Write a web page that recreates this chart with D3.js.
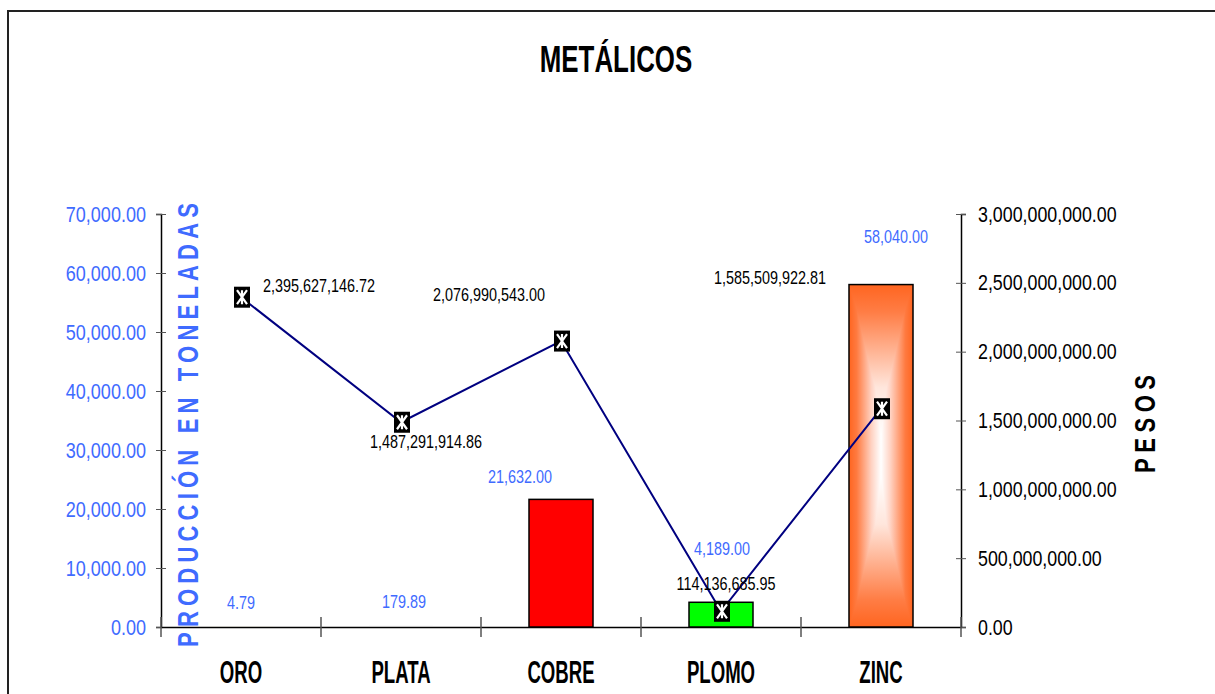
<!DOCTYPE html>
<html>
<head>
<meta charset="utf-8">
<script src="https://cdn.jsdelivr.net/npm/d3@7"></script>
<style>
  body { margin: 0; background: #fff; }
  svg { display: block; font-family: "Liberation Sans", Arial, sans-serif; }
</style>
</head>
<body>
<svg id="chart" width="1215" height="694"></svg>
<script>
// Chart values
const categories = ["ORO", "PLATA", "COBRE", "PLOMO", "ZINC"];
const toneladas = [4.79, 179.89, 21632.00, 4189.00, 58040.00];
const pesos = [2395627146.72, 1487291914.86, 2076990543.00, 114136685.95, 1585509922.81];
const leftTicks = [0, 10000, 20000, 30000, 40000, 50000, 60000, 70000];
const rightTicks = [0, 500000000, 1000000000, 1500000000, 2000000000, 2500000000, 3000000000];
const barFills = ["#FFD700", "#C0C0C0", "#FF0000", "#00FF00", "gradient"];

// Hand-placed label offsets (like the original sheet)
const lineLabelOffsets = [[78, -12], [25, 19], [-72, -46], [5, -28], [-111, -131]];
const barLabelOffsets = [[0, -24], [3, -24], [-41, -23], [1, -54], [15, -48]];

const blue = "#3F6BFF";
const fmt = d3.format(",.2f");

const svg = d3.select("#chart");
const defs = svg.append("defs");

// zinc bar: orange edges fading to a white centre
const gH = defs.append("linearGradient").attr("id", "zincH").attr("x1", 0).attr("x2", 1).attr("y1", 0).attr("y2", 0);
[[0, "#FF6520"], [0.12, "#FF7A40"], [0.35, "#FFD2C2"], [0.5, "#FFFFFF"], [0.65, "#FFD2C2"], [0.88, "#FF7A40"], [1, "#FF6520"]]
    .forEach(s => gH.append("stop").attr("offset", s[0]).attr("stop-color", s[1]));
const gV = defs.append("linearGradient").attr("id", "zincV").attr("x1", 0).attr("x2", 0).attr("y1", 0).attr("y2", 1);
[[0, "#FF6520"], [0.08, "#FF7D45"], [0.3, "#FFE6DC"], [0.45, "#FFFFFF"], [0.55, "#FFFFFF"], [0.7, "#FFE6DC"], [0.92, "#FF7D45"], [1, "#FF6520"]]
    .forEach(s => gV.append("stop").attr("offset", s[0]).attr("stop-color", s[1]));

// outer frame
svg.append("rect")
    .attr("x", 8).attr("y", 11)
    .attr("width", 1300).attr("height", 800)
    .attr("fill", "none").attr("stroke", "#222").attr("stroke-width", 2);

// squeeze text horizontally around its anchor
function squeeze(sel, sx) {
    sel.each(function () {
        const t = d3.select(this);
        const x = +t.attr("x") || 0, y = +t.attr("y") || 0;
        t.attr("x", 0).attr("y", 0).attr("transform", `translate(${x},${y}) scale(${sx},1)`);
    });
}

// scales
const x = d3.scaleBand().domain(categories).range([161, 961]).padding(0);
const yL = d3.scaleLinear().domain([0, 70000]).range([627, 214]);
const yR = d3.scaleLinear().domain([0, 3000000000]).range([627, 214]);
const barW = x.bandwidth() * 0.4;
const cx = d => x(d) + x.bandwidth() / 2;

// title
svg.append("text")
    .attr("x", 616).attr("y", 72)
    .attr("text-anchor", "middle")
    .attr("font-size", 37).attr("font-weight", "bold")
    .text("METÁLICOS")
    .call(squeeze, 0.7);

// left axis
const gL = svg.append("g")
    .attr("transform", "translate(161,0)")
    .call(d3.axisLeft(yL).tickValues(leftTicks).tickFormat(fmt).tickSizeOuter(0).tickSize(5).tickPadding(10));
gL.select(".domain").attr("stroke", "#000").attr("stroke-width", 1.5);
gL.selectAll(".tick line").attr("x1", -5).attr("x2", 5).attr("stroke", "#555");
gL.selectAll(".tick text")
    .attr("fill", blue).attr("font-size", 22)
    .attr("font-family", "Liberation Sans, Arial, sans-serif")
    .call(squeeze, 0.82);

// right axis
const gR = svg.append("g")
    .attr("transform", "translate(961,0)")
    .call(d3.axisRight(yR).tickValues(rightTicks).tickFormat(fmt).tickSizeOuter(0).tickSize(5).tickPadding(12));
gR.select(".domain").attr("stroke", "#000").attr("stroke-width", 1.5);
gR.selectAll(".tick line").attr("x1", -5).attr("x2", 5).attr("stroke", "#555");
gR.selectAll(".tick text")
    .attr("fill", "#000").attr("font-size", 22)
    .attr("font-family", "Liberation Sans, Arial, sans-serif")
    .call(squeeze, 0.81);

// category axis
const gX = svg.append("g")
    .attr("transform", "translate(0,627)")
    .call(d3.axisBottom(x).tickSize(0).tickPadding(0));
gX.select(".domain").attr("stroke", "#000").attr("stroke-width", 1.5);
gX.selectAll(".tick text")
    .attr("y", 56)
    .attr("dy", 0)
    .attr("font-size", 31).attr("font-weight", "bold")
    .attr("font-family", "Liberation Sans, Arial, sans-serif")
    .call(squeeze, 0.6);
// boundary ticks between categories
gX.selectAll(".sep")
    .data(d3.range(categories.length + 1))
    .enter().append("line")
    .attr("x1", i => x.range()[0] + i * x.step())
    .attr("x2", i => x.range()[0] + i * x.step())
    .attr("y1", -10).attr("y2", 10)
    .attr("stroke", "#555").attr("stroke-width", 1.5);

// axis titles
svg.append("text")
    .attr("transform", "translate(198,425) rotate(-90) scale(0.76,1)")
    .attr("text-anchor", "middle")
    .attr("font-size", 29).attr("font-weight", "bold")
    .attr("fill", blue)
    .attr("textLength", 444 / 0.76).attr("lengthAdjust", "spacing")
    .text("PRODUCCIÓN EN TONELADAS");

svg.append("text")
    .attr("transform", "translate(1155,424) rotate(-90) scale(0.76,1)")
    .attr("text-anchor", "middle")
    .attr("font-size", 29).attr("font-weight", "bold")
    .attr("fill", "#000")
    .attr("textLength", 98 / 0.76).attr("lengthAdjust", "spacing")
    .text("PESOS");

// bars
const data = categories.map((c, i) => ({ c, t: toneladas[i], p: pesos[i], fill: barFills[i], i }));

const bars = svg.append("g");
data.forEach(d => {
    const bx = cx(d.c) - barW / 2, by = yL(d.t), bh = yL(0) - yL(d.t);
    if (d.fill === "gradient") {
        const g = bars.append("g").style("isolation", "isolate");
        g.append("rect").attr("x", bx).attr("y", by).attr("width", barW).attr("height", bh).attr("fill", "url(#zincH)");
        g.append("rect").attr("x", bx).attr("y", by).attr("width", barW).attr("height", bh)
            .attr("fill", "url(#zincV)").style("mix-blend-mode", "darken");
        g.append("rect").attr("x", bx).attr("y", by).attr("width", barW).attr("height", bh)
            .attr("fill", "none").attr("stroke", "#000").attr("stroke-width", 1.5);
    } else {
        bars.append("rect").attr("x", bx).attr("y", by).attr("width", barW).attr("height", bh)
            .attr("fill", d.fill).attr("stroke", bh > 2 ? "#000" : "none").attr("stroke-width", 1.5);
    }
});

// bar value labels
svg.append("g").selectAll("text")
    .data(data).enter().append("text")
    .attr("x", d => cx(d.c) + barLabelOffsets[d.i][0])
    .attr("y", d => yL(d.t) + barLabelOffsets[d.i][1])
    .attr("dy", "0.35em")
    .attr("text-anchor", "middle")
    .attr("font-size", 18).attr("fill", blue)
    .text(d => fmt(d.t))
    .call(squeeze, 0.8);

// pesos line
const line = d3.line().x(d => cx(d.c)).y(d => yR(d.p));
svg.append("path")
    .datum(data)
    .attr("d", line)
    .attr("fill", "none")
    .attr("stroke", "#000080")
    .attr("stroke-width", 2);

// markers: black box with a white star-ish glyph
const mk = svg.append("g").selectAll("g")
    .data(data).enter().append("g")
    .attr("transform", d => `translate(${cx(d.c) + 1},${yR(d.p)})`);
mk.append("rect").attr("x", -8).attr("y", -10.5).attr("width", 16).attr("height", 21).attr("fill", "#000");
mk.append("path")
    .attr("d", "M-5,-7L5,7M5,-7L-5,7M0,-7L0,7")
    .attr("stroke", "#fff").attr("stroke-width", 2.2);

// pesos value labels
svg.append("g").selectAll("text")
    .data(data).enter().append("text")
    .attr("x", d => cx(d.c) + lineLabelOffsets[d.i][0])
    .attr("y", d => yR(d.p) + lineLabelOffsets[d.i][1])
    .attr("dy", "0.35em")
    .attr("text-anchor", "middle")
    .attr("font-size", 18).attr("fill", "#000")
    .text(d => fmt(d.p))
    .call(squeeze, 0.8);
</script>
</body>
</html>
